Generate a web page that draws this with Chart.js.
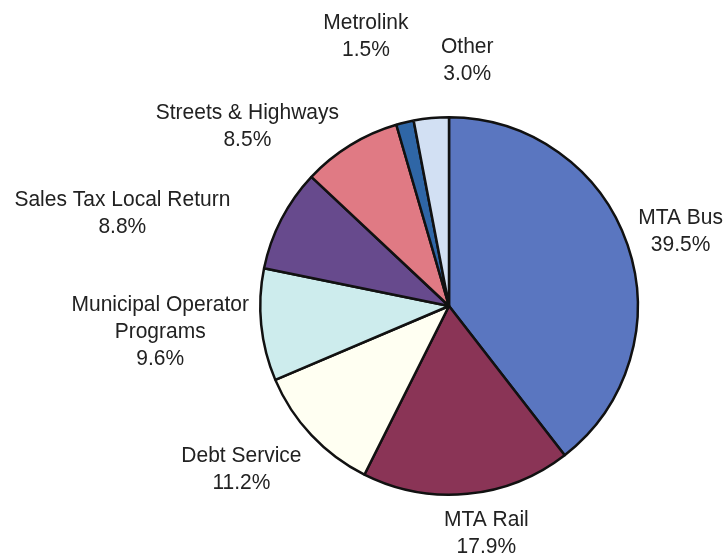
<!DOCTYPE html>
<html>
<head>
<meta charset="utf-8">
<script src="https://cdn.jsdelivr.net/npm/chart.js@4/dist/chart.umd.min.js"></script>
<style>
  html, body { margin: 0; padding: 0; background: #ffffff; }
  #wrap { width: 726px; height: 553px; position: relative; }
</style>
</head>
<body>
<div id="wrap"><canvas id="c"></canvas></div>
<script>
// ---- data ----
const categories = [
  'MTA Bus',
  'MTA Rail',
  'Debt Service',
  ['Municipal Operator', 'Programs'],
  'Sales Tax Local Return',
  'Streets & Highways',
  'Metrolink',
  'Other'
];
const shares = [39.5, 17.9, 11.2, 9.6, 8.8, 8.5, 1.5, 3.0];

// ---- styles ----
const sliceColors = [
  '#5a76c0', '#8a3456', '#fffff2', '#cdeced',
  '#674a8d', '#e07a84', '#2f66a6', '#d2e0f3'
];
// label offsets (px) from the slice's outer mid-point
const labelNudge = [
  [53, -14], [19, 39], [-70, 34], [-101, 7],
  [-159, -6], [-103, -19], [-39, -86], [36, -58]
];

const labelPlugin = {
  id: 'pieLabels',
  afterDatasetsDraw(chart) {
    const ctx = chart.ctx;
    const meta = chart.getDatasetMeta(0);
    const lineH = 27;
    const vScale = 1.08;
    ctx.save();
    ctx.font = '21px "Liberation Sans", Arial, sans-serif';
    ctx.fillStyle = '#222222';
    ctx.textAlign = 'center';
    ctx.textBaseline = 'middle';
    meta.data.forEach((arc, i) => {
      const p = arc.getProps(['x', 'y', 'startAngle', 'endAngle', 'outerRadius'], true);
      const mid = (p.startAngle + p.endAngle) / 2;
      const ax = p.x + Math.cos(mid) * p.outerRadius + labelNudge[i][0];
      const ay = p.y + Math.sin(mid) * p.outerRadius + labelNudge[i][1];
      const name = chart.data.labels[i];
      const lines = (Array.isArray(name) ? name.slice() : [name]);
      lines.push(chart.data.datasets[0].data[i].toFixed(1) + '%');
      const top = ay - (lines.length - 1) * lineH / 2;
      lines.forEach((t, k) => {
        ctx.save();
        ctx.translate(ax, top + k * lineH);
        ctx.scale(1, vScale);
        ctx.fillText(t, 0, 0);
        ctx.restore();
      });
    });
    ctx.restore();
  }
};

new Chart(document.getElementById('c'), {
  type: 'pie',
  data: {
    labels: categories,
    datasets: [{
      data: shares,
      backgroundColor: sliceColors,
      borderColor: '#111111',
      borderWidth: 2.5
    }]
  },
  options: {
    responsive: true,
    maintainAspectRatio: false,
    animation: false,
    layout: { padding: { left: 259, right: 87, top: 116, bottom: 57 } },
    plugins: {
      legend: { display: false },
      tooltip: { enabled: false }
    }
  },
  plugins: [labelPlugin]
});
</script>
</body>
</html>
